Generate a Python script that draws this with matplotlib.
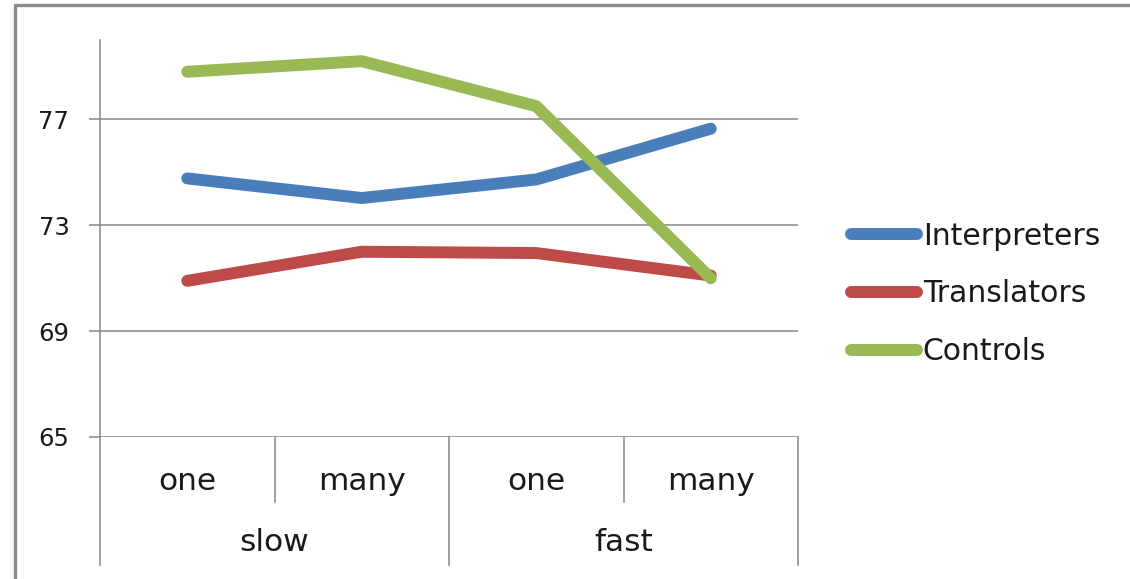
import matplotlib
matplotlib.use("Agg")
import matplotlib.pyplot as plt
from matplotlib.lines import Line2D

# Reaction data by speed and number of items
speeds = ["slow", "fast"]
counts = ["one", "many", "one", "many"]
groups = ["Interpreters", "Translators", "Controls"]
interpreters = [74.77, 74.03, 74.73, 76.65]
translators = [70.90, 72.00, 71.95, 71.10]
controls = [78.80, 79.20, 77.50, 71.00]
yticks = [65, 69, 73, 77]

series = [interpreters, translators, controls]
colors = ["#4A7EBB", "#BE4B48", "#98B954"]
grid_color = "#868686"
text_color = "#1a1a1a"
plt.rcParams["font.family"] = ["DejaVu Sans"]

W, H = 1130, 579
fig = plt.figure(figsize=(W / 100, H / 100), dpi=100)
ax = fig.add_axes([100 / W, 1 - 437 / H, 698 / W, 397 / H])

x = list(range(len(counts)))
for vals, col, name in zip(series, colors, groups):
    ax.plot(x, vals, color=col, lw=8.6, solid_capstyle="round",
            solid_joinstyle="round", label=name, zorder=3)

ax.set_xlim(-0.5, len(counts) - 0.5)
ax.set_ylim(65, 80)
ax.set_yticks(yticks)
ax.set_yticklabels([str(v) for v in yticks])
ax.tick_params(axis="y", length=8, width=1.1, color=grid_color, pad=14,
               labelsize=17.5, labelcolor=text_color)
ax.set_xticks([])
for s in ["top", "right", "bottom", "left"]:
    ax.spines[s].set_visible(False)
for v in yticks:
    ax.axhline(v, color=grid_color, lw=1.1, zorder=1)

# category axis: vertical dividers and two rows of labels below the plot
xt = ax.get_xaxis_transform()
low_row = -0.322
mid_row = -0.164
ax.plot([-0.5, -0.5], [1.0, low_row], transform=xt, color=grid_color,
        lw=1.1, clip_on=False)
for xv in [1.5, 3.5]:
    ax.plot([xv, xv], [0, low_row], transform=xt, color=grid_color,
            lw=1.1, clip_on=False)
for xv in [0.5, 2.5]:
    ax.plot([xv, xv], [0, mid_row], transform=xt, color=grid_color,
            lw=1.1, clip_on=False)
for i, c in enumerate(counts):
    ax.text(i, -0.111, c, transform=xt, ha="center", va="center",
            fontsize=22.5, color=text_color)
for j, s in enumerate(speeds):
    ax.text(2 * j + 0.5, -0.267, s, transform=xt, ha="center", va="center",
            fontsize=22.5, color=text_color)

leg = ax.legend(loc="center left", bbox_to_anchor=(851 / W, 1 - 294 / H),
                bbox_transform=fig.transFigure, frameon=False,
                prop={"size": 21.5},
                handlelength=2.2, handletextpad=0.2, labelspacing=0.97,
                borderpad=0, borderaxespad=0)
for t in leg.get_texts():
    t.set_color(text_color)

# outer frame, visible along the left and top edges
fig.add_artist(Line2D([15 / W, 15 / W], [0, 1 - 4 / H], transform=fig.transFigure,
                      color="#8a8a8a", lw=2.4, solid_capstyle="butt"))
fig.add_artist(Line2D([14 / W, 1], [1 - 4.5 / H, 1 - 4.5 / H],
                      transform=fig.transFigure, color="#8a8a8a", lw=2.4,
                      solid_capstyle="butt"))

fig.savefig("out.png", dpi=100, facecolor="white")
